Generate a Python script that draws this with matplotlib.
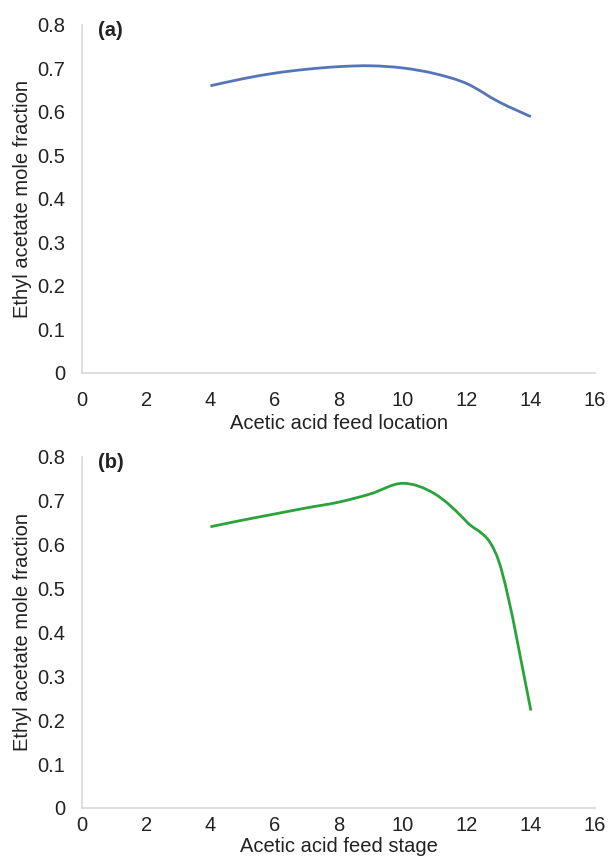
import numpy as np
import matplotlib
matplotlib.use("Agg")
import matplotlib.pyplot as plt
from matplotlib.path import Path
from matplotlib.patches import PathPatch

plt.rcParams['font.family'] = ['Liberation Sans', 'DejaVu Sans']

# data
feed_stage = [4, 5, 6, 7, 8, 9, 10, 11, 12, 13, 14]
frac_a = [0.660, 0.676, 0.689, 0.698, 0.704, 0.706, 0.701, 0.688, 0.665, 0.623, 0.589]
frac_b = [0.641, 0.656, 0.670, 0.684, 0.697, 0.716, 0.740, 0.716, 0.652, 0.562, 0.222]
yticks = [0, 0.1, 0.2, 0.3, 0.4, 0.5, 0.6, 0.7, 0.8]
xticks = [0, 2, 4, 6, 8, 10, 12, 14, 16]


def smooth_path(x, y):
    # Excel-like smoothed line: cubic Bezier through each point
    x = np.asarray(x, float)
    y = np.asarray(y, float)
    n = len(x)
    verts = [(x[0], y[0])]
    codes = [Path.MOVETO]
    for i in range(n - 1):
        p0 = np.array([x[max(i - 1, 0)], y[max(i - 1, 0)]])
        p1 = np.array([x[i], y[i]])
        p2 = np.array([x[i + 1], y[i + 1]])
        p3 = np.array([x[min(i + 2, n - 1)], y[min(i + 2, n - 1)]])
        c1 = p1 + (p2 - p0) / 6
        c2 = p2 - (p3 - p1) / 6
        verts += [tuple(c1), tuple(c2), tuple(p2)]
        codes += [Path.CURVE4] * 3
    return Path(verts, codes)


fig, axes = plt.subplots(2, 1, figsize=(6.09, 8.59), dpi=100)

panels = [
    (axes[0], frac_a, '#5575b9', '(a)', 'Acetic acid feed location', 13, 3),
    (axes[1], frac_b, '#2ba33b', '(b)', 'Acetic acid feed stage', 6, 1),
]
positions = [[0.135, 0.566, 0.842, 0.405], [0.135, 0.0594, 0.842, 0.4086]]

for (ax, vals, col, tag, xlab, xpad, lp), pos in zip(panels, positions):
    ax.set_position(pos)
    ax.add_patch(PathPatch(smooth_path(feed_stage, vals), facecolor='none',
                           edgecolor=col, lw=2.0, capstyle='butt'))
    ax.set_xlim(0, 16)
    ax.set_ylim(0, 0.8)
    ax.set_xticks(xticks)
    ax.set_yticks(yticks)
    ax.set_yticklabels([f'{t:g}' for t in yticks])
    ax.tick_params(length=0, labelsize=14.5, colors='#222222', pad=12)
    ax.tick_params(axis='x', pad=xpad)
    for s in ['top', 'right']:
        ax.spines[s].set_visible(False)
    for s in ['left', 'bottom']:
        ax.spines[s].set_color('#d9d9d9')
        ax.spines[s].set_linewidth(1.2)
    ax.set_xlabel(xlab, fontsize=14.5, color='#222222', labelpad=lp)
    ax.set_ylabel('Ethyl acetate mole fraction', fontsize=14.5, color='#222222', labelpad=4)
    ax.text(0.03, 0.985, tag, transform=ax.transAxes, fontsize=14.5,
            fontweight='bold', va='center', ha='left', color='#222222')

fig.savefig('out.png', dpi=100)
